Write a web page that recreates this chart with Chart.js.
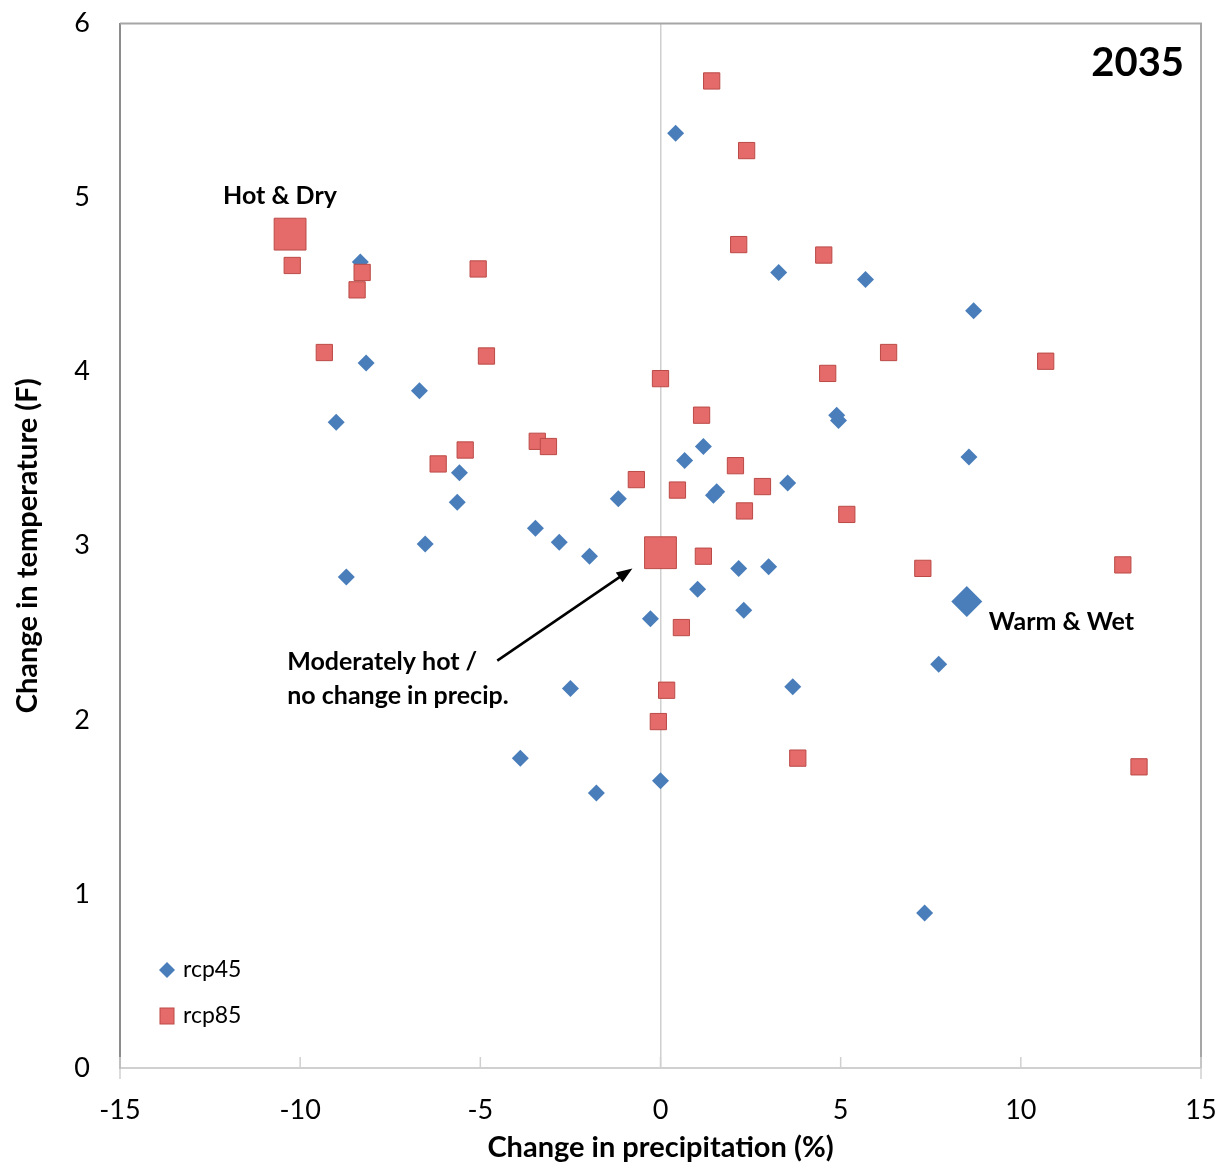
<!DOCTYPE html>
<html>
<head>
<meta charset="utf-8">
<script src="https://cdn.jsdelivr.net/npm/chart.js@4.4.1/dist/chart.umd.min.js"></script>
<style>
html, body { margin: 0; padding: 0; background: #fff; }
#scatterChart { display: block; }
</style>
</head>
<body>
<canvas id="scatterChart" width="1227" height="1168"></canvas>
<script>
// rcp45 model runs: change in precipitation (%) / change in temperature (F)
var rcp45_precip = [-8.33, -8.17, -6.69, -9.0, -5.58, -5.64, -6.53, -8.72, -3.47, -2.81, -1.97, -1.17,
                    0.42, 0.67, 1.19, 1.47, 1.56, 1.03, -0.28, 2.17, 2.31, 3.0, 3.53, 3.28, 5.69,
                    4.89, 4.94, 8.69, 8.56, 7.72, 3.67, -2.5, -3.89, -1.78, 0.0, 7.33]
var rcp45_temp   = [4.63, 4.05, 3.89, 3.71, 3.42, 3.25, 3.01, 2.82, 3.10, 3.02, 2.94, 3.27,
                    5.37, 3.49, 3.57, 3.29, 3.31, 2.75, 2.58, 2.87, 2.63, 2.88, 3.36, 4.57, 4.53,
                    3.75, 3.72, 4.35, 3.51, 2.32, 2.19, 2.18, 1.78, 1.58, 1.65, 0.89]

// rcp85 model runs
var rcp85_precip = [-10.22, -8.28, -8.42, -9.33, -5.06, -4.83, -6.17, -5.42, -3.42, -3.11, -0.67, 0.0,
                    1.42, 2.39, 2.17, 4.53, 1.14, 0.47, 2.08, 2.83, 2.33, 4.64, 6.33, 10.69, 5.17,
                    1.19, 0.58, 7.28, 12.83, 0.17, -0.06, 3.81, 13.28]
var rcp85_temp   = [4.61, 4.57, 4.47, 4.11, 4.59, 4.09, 3.47, 3.55, 3.60, 3.57, 3.38, 3.96,
                    5.67, 5.27, 4.73, 4.67, 3.75, 3.32, 3.46, 3.34, 3.20, 3.99, 4.11, 4.06, 3.18,
                    2.94, 2.53, 2.87, 2.89, 2.17, 1.99, 1.78, 1.73]

// highlighted scenarios
var warmWet_precip = [8.5],   warmWet_temp = [2.68]
var hotDry_precip  = [-10.28], hotDry_temp = [4.79]
var moderate_precip = [0.0],  moderate_temp = [2.96]

var xTicks = [-15, -10, -5, 0, 5, 10, 15]
var yTicks = [0, 1, 2, 3, 4, 5, 6]

var FONT = 'Lato, "Open Sans", "DejaVu Sans", sans-serif'
var BLUE = '#4a7ebb'
var RED_FILL = '#e46b69'
var RED_EDGE = '#bb4a47'

function toPoints(xs, ys) {
    var out = []
    for (let i = 0; i < xs.length; i++) {
        out.push({x: xs[i], y: ys[i]})
    }
    return out
}

var extras = {
    id: 'extras',
    afterDraw: function(chart) {
        var ctx = chart.ctx
        var xs = chart.scales.x
        var ys = chart.scales.y
        var a = chart.chartArea
        ctx.save()

        // frame top / right
        ctx.strokeStyle = '#a6a6a6'
        ctx.lineWidth = 2
        ctx.beginPath()
        ctx.moveTo(a.left, a.top)
        ctx.lineTo(a.right, a.top)
        ctx.lineTo(a.right, a.bottom)
        ctx.stroke()

        // inside tick marks on the x axis
        ctx.strokeStyle = '#d0d0d0'
        ctx.lineWidth = 1.5
        for (let i = 0; i < xTicks.length; i++) {
            var px = xs.getPixelForValue(xTicks[i])
            ctx.beginPath()
            ctx.moveTo(px, a.bottom - 11)
            ctx.lineTo(px, a.bottom + (i == 0 || i == xTicks.length - 1 ? 11 : 0))
            ctx.stroke()
        }

        // annotations
        ctx.fillStyle = '#000'
        ctx.textBaseline = 'middle'
        ctx.font = 'bold 40px ' + FONT
        ctx.textAlign = 'right'
        ctx.fillText('2035', xs.getPixelForValue(14.53), ys.getPixelForValue(5.77))

        ctx.font = 'bold 25px ' + FONT
        ctx.textAlign = 'center'
        ctx.fillText('Hot & Dry', xs.getPixelForValue(-10.56), ys.getPixelForValue(5.01))
        ctx.textAlign = 'left'
        ctx.fillText('Warm & Wet', xs.getPixelForValue(9.11), ys.getPixelForValue(2.56))
        ctx.fillText('Moderately hot /', xs.getPixelForValue(-10.36), ys.getPixelForValue(2.33))
        ctx.fillText('no change in precip.', xs.getPixelForValue(-10.36), ys.getPixelForValue(2.14))

        // arrow
        var x0 = xs.getPixelForValue(-4.53), y0 = ys.getPixelForValue(2.34)
        var x1 = xs.getPixelForValue(-0.78), y1 = ys.getPixelForValue(2.87)
        var ang = Math.atan2(y1 - y0, x1 - x0)
        ctx.strokeStyle = '#000'
        ctx.lineWidth = 2.5
        ctx.beginPath()
        ctx.moveTo(x0, y0)
        ctx.lineTo(x1 - 12 * Math.cos(ang), y1 - 12 * Math.sin(ang))
        ctx.stroke()
        ctx.beginPath()
        ctx.moveTo(x1, y1)
        ctx.lineTo(x1 - 16 * Math.cos(ang) + 6 * Math.sin(ang), y1 - 16 * Math.sin(ang) - 6 * Math.cos(ang))
        ctx.lineTo(x1 - 16 * Math.cos(ang) - 6 * Math.sin(ang), y1 - 16 * Math.sin(ang) + 6 * Math.cos(ang))
        ctx.closePath()
        ctx.fillStyle = '#000'
        ctx.fill()

        // legend (bottom left, inside plot)
        var lx = a.left + 47
        var ly1 = a.bottom - 98
        var ly2 = a.bottom - 52
        ctx.fillStyle = BLUE
        ctx.beginPath()
        ctx.moveTo(lx, ly1 - 8)
        ctx.lineTo(lx + 8, ly1)
        ctx.lineTo(lx, ly1 + 8)
        ctx.lineTo(lx - 8, ly1)
        ctx.closePath()
        ctx.fill()
        ctx.fillStyle = RED_FILL
        ctx.strokeStyle = RED_EDGE
        ctx.lineWidth = 1
        ctx.fillRect(lx - 7, ly2 - 8, 14, 16)
        ctx.strokeRect(lx - 7, ly2 - 8, 14, 16)
        ctx.fillStyle = '#000'
        ctx.font = '23px ' + FONT
        ctx.textAlign = 'left'
        ctx.fillText('rcp45', lx + 16, ly1)
        ctx.fillText('rcp85', lx + 16, ly2)

        ctx.restore()
    }
}

var ctx = document.getElementById('scatterChart').getContext('2d')
var scatterChart = new Chart(ctx, {
    type: 'scatter',
    data: {
        datasets: [
            {
                label: 'rcp45',
                data: toPoints(rcp45_precip, rcp45_temp),
                pointStyle: 'rectRot',
                pointRadius: 8.5,
                pointHoverRadius: 8.5,
                backgroundColor: BLUE,
                borderColor: BLUE,
                borderWidth: 0,
                order: 3
            },
            {
                label: 'Warm & Wet',
                data: toPoints(warmWet_precip, warmWet_temp),
                pointStyle: 'rectRot',
                pointRadius: 15.5,
                pointHoverRadius: 15.5,
                backgroundColor: BLUE,
                borderColor: BLUE,
                borderWidth: 0,
                order: 2
            },
            {
                label: 'rcp85',
                data: toPoints(rcp85_precip, rcp85_temp),
                pointStyle: 'rect',
                pointRadius: 11.5,
                pointHoverRadius: 11.5,
                backgroundColor: RED_FILL,
                borderColor: RED_EDGE,
                borderWidth: 1,
                order: 1
            },
            {
                label: 'Hot & Dry / Moderate',
                data: toPoints(hotDry_precip, hotDry_temp).concat(toPoints(moderate_precip, moderate_temp)),
                pointStyle: 'rect',
                pointRadius: 22.5,
                pointHoverRadius: 22.5,
                backgroundColor: RED_FILL,
                borderColor: RED_EDGE,
                borderWidth: 1,
                order: 0
            }
        ]
    },
    options: {
        responsive: false,
        animation: false,
        devicePixelRatio: 1,
        layout: { padding: { left: 0, right: 26, top: 22, bottom: 0 } },
        plugins: {
            legend: { display: false },
            tooltip: { enabled: false }
        },
        scales: {
            x: {
                type: 'linear',
                min: -15,
                max: 15,
                afterBuildTicks: (s) => { s.ticks = xTicks.map((v) => ({value: v})) },
                afterFit: (s) => { s.height = 100; s.paddingLeft = 0; s.paddingRight = 0 },
                grid: {
                    drawTicks: false,
                    color: (c) => (c.tick && c.tick.value === 0 ? '#cfcfcf' : 'rgba(0,0,0,0)'),
                    lineWidth: 1.5
                },
                border: { display: true, color: '#d0d0d0', width: 2 },
                ticks: { padding: 26, color: '#000', font: { family: FONT, size: 27 } },
                title: {
                    display: true,
                    text: 'Change in precipitation (%)',
                    color: '#000',
                    font: { family: FONT, size: 29, weight: 'bold' },
                    padding: { top: 0, bottom: 3 }
                }
            },
            y: {
                type: 'linear',
                min: 0,
                max: 6,
                afterBuildTicks: (s) => { s.ticks = yTicks.map((v) => ({value: v})) },
                afterFit: (s) => { s.width = 120; s.paddingTop = 0; s.paddingBottom = 0 },
                grid: { display: false, drawTicks: false },
                border: { display: true, color: '#8c8c8c', width: 2 },
                ticks: { padding: 30, color: '#000', font: { family: FONT, size: 27 } },
                title: {
                    display: true,
                    text: 'Change in temperature (F)',
                    color: '#000',
                    font: { family: FONT, size: 29, weight: 'bold' },
                    padding: { top: 10, bottom: 0 }
                }
            }
        }
    },
    plugins: [extras]
})
</script>
</body>
</html>
